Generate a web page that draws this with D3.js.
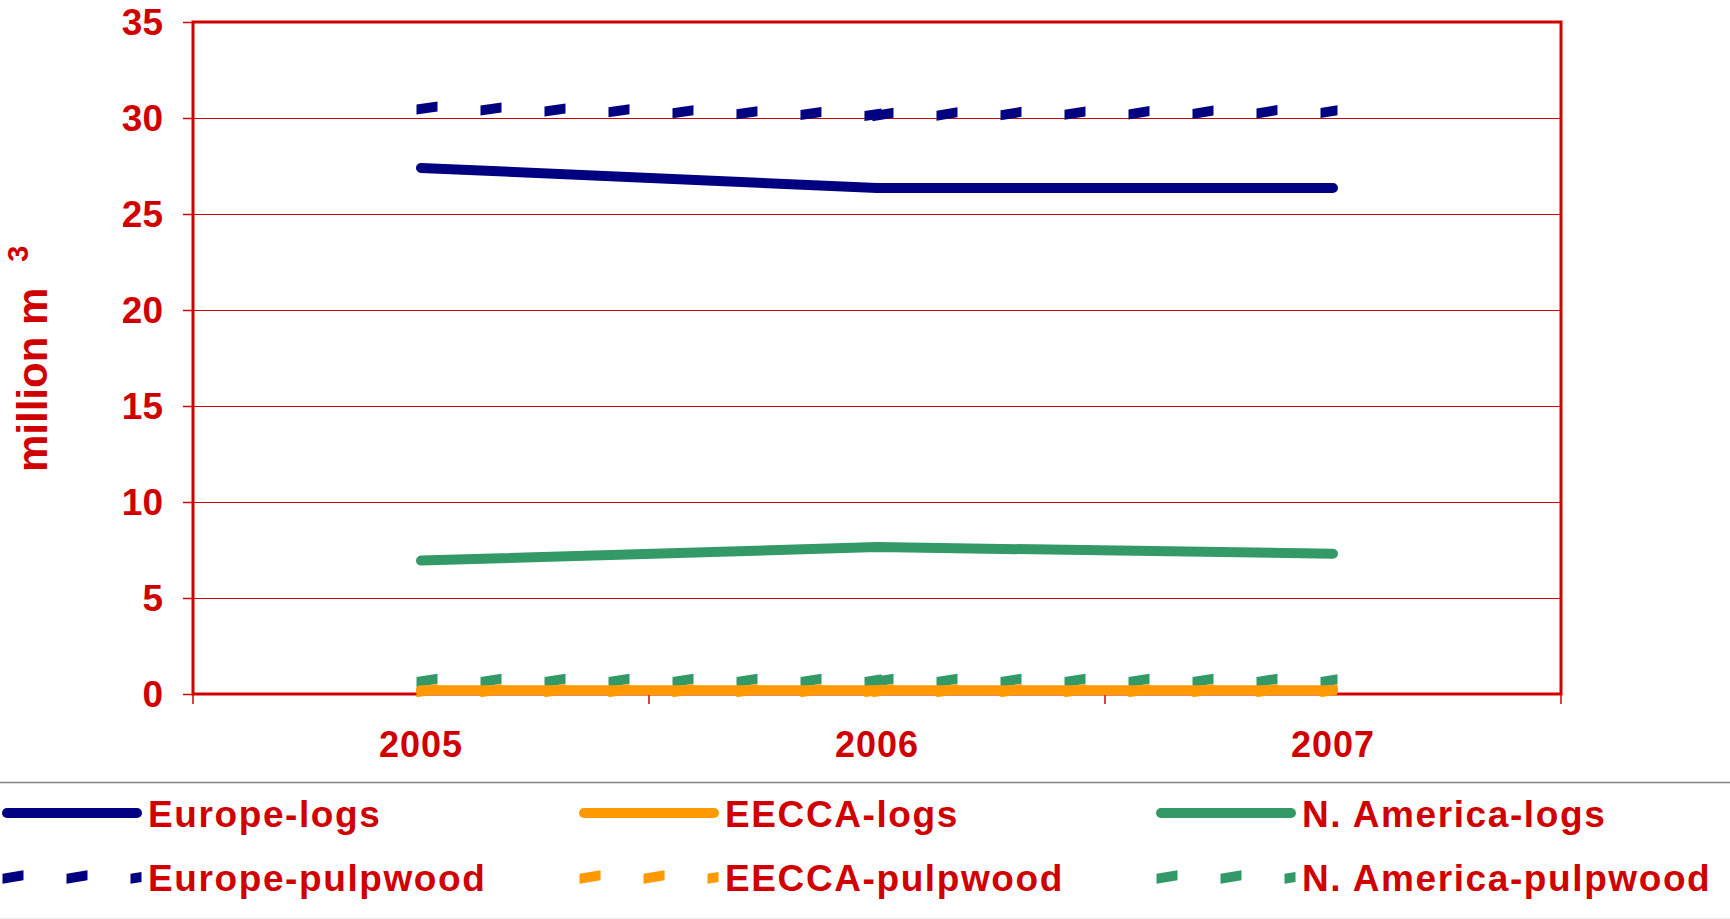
<!DOCTYPE html>
<html><head><meta charset="utf-8">
<script src="https://cdn.jsdelivr.net/npm/d3@7/dist/d3.min.js"></script>
<style>html,body{margin:0;padding:0;background:#fff;}svg{display:block;}</style>
</head><body>
<svg id="chart" width="1730" height="919"></svg>
<script>
// ---- data ----
const years = ["2005", "2006", "2007"];
const yTicks = [0, 5, 10, 15, 20, 25, 30, 35];
const europeLogs = [27.4, 26.35, 26.35];
const europePulpwood = [30.52, 30.18, 30.35];
const eeccaLogs = [0.2, 0.2, 0.2];
const eeccaPulpwood = [0.18, 0.18, 0.18];
const naLogs = [6.95, 7.65, 7.31];
const naPulpwood = [0.71, 0.71, 0.71];
const seriesNames = ["Europe-logs", "EECCA-logs", "N. America-logs",
                     "Europe-pulpwood", "EECCA-pulpwood", "N. America-pulpwood"];

const RED = "#d00000", NAVY = "#000080", ORANGE = "#ff9900", GREEN = "#339966";
const FONT = "'Liberation Sans', Arial, sans-serif";

const series = [
  {name: "Europe-logs", values: europeLogs, color: NAVY, dashed: false},
  {name: "Europe-pulpwood", values: europePulpwood, color: NAVY, dashed: true},
  {name: "N. America-logs", values: naLogs, color: GREEN, dashed: false},
  {name: "N. America-pulpwood", values: naPulpwood, color: GREEN, dashed: true},
  {name: "EECCA-logs", values: eeccaLogs, color: ORANGE, dashed: false},
  {name: "EECCA-pulpwood", values: eeccaPulpwood, color: ORANGE, dashed: true}
];

const svg = d3.select("#chart");
const L = 193, R = 1561, T = 22, B = 694;

const x = d3.scaleBand().domain(years).range([L, R]);
const xc = d => x(d) + x.bandwidth() / 2;
const y = d3.scaleLinear().domain([0, 35]).range([B, T]);

// gridlines
svg.append("g").selectAll("line").data(yTicks.filter(v => v > 0 && v < 35)).join("line")
  .attr("x1", L).attr("x2", R).attr("y1", d => Math.round(y(d)) + 0.5).attr("y2", d => Math.round(y(d)) + 0.5)
  .attr("stroke", RED).attr("stroke-width", 1);

// y ticks and labels
const yAxis = d3.axisLeft(y).tickValues(yTicks).tickSize(10).tickPadding(20);
const gy = svg.append("g").attr("transform", `translate(${L},0)`).call(yAxis);
gy.select(".domain").remove();
gy.selectAll(".tick line").attr("stroke", RED).attr("stroke-width", 1.5);
gy.selectAll(".tick text").attr("fill", RED).style("font-family", FONT).style("font-weight", "bold")
  .style("font-size", "37px").attr("dy", "0.34em").attr("x", -30);

// x ticks at band boundaries
const bounds = years.map(d => x(d)).concat([R]);
svg.append("g").selectAll("line").data(bounds).join("line")
  .attr("x1", d => d).attr("x2", d => d).attr("y1", B).attr("y2", B + 10)
  .attr("stroke", RED).attr("stroke-width", 1.5);
svg.append("g").selectAll("text").data(years).join("text")
  .attr("x", d => xc(d)).attr("y", 757).attr("text-anchor", "middle")
  .attr("fill", RED).style("font-family", FONT).style("font-weight", "bold").style("font-size", "36px")
  .style("letter-spacing", "1px").text(d => d);

// plot border
svg.append("rect").attr("x", L).attr("y", T).attr("width", R - L).attr("height", B - T)
  .attr("fill", "none").attr("stroke", RED).attr("stroke-width", 3);

// y title
const yt = svg.append("text").attr("transform", "translate(47,472) rotate(-90)")
  .attr("fill", RED).style("font-family", FONT).style("font-weight", "bold").style("font-size", "42px");
yt.append("tspan").text("million m");
yt.append("tspan").attr("dx", 26).attr("dy", -19).style("font-size", "29px").text("3");

// dashed "parallelogram" dashes
function dashPolys(pts, dashLen = 21, period = 64, ext = 4.5, h = 10, sl = 3.3) {
  const polys = [];
  for (let i = 0; i < pts.length - 1; i++) {
    const [px, py] = pts[i], [qx, qy] = pts[i + 1];
    const len = Math.hypot(qx - px, qy - py);
    const ux = (qx - px) / len, uy = (qy - py) / len;
    const sx = px - ux * ext, sy = py - uy * ext;
    const tot = len + 2 * ext;
    const shift = u => sl * (0.5 - u / dashLen);
    for (let t = 0; t < tot; t += period) {
      const t2 = Math.min(t + dashLen, tot);
      const ax = sx + ux * t, ay = sy + uy * t;
      const bx = sx + ux * t2, by = sy + uy * t2;
      const s0 = shift(0), s1 = shift(t2 - t);
      polys.push([[ax, ay - h / 2 + s0], [bx, by - h / 2 + s1], [bx, by + h / 2 + s1], [ax, ay + h / 2 + s0]]);
    }
  }
  return polys;
}

const line = d3.line();
series.forEach(s => {
  const pts = years.map((yr, i) => [xc(yr), y(s.values[i])]);
  if (!s.dashed) {
    svg.append("path").attr("d", line(pts)).attr("fill", "none").attr("stroke", s.color)
      .attr("stroke-width", 10).attr("stroke-linecap", "round").attr("stroke-linejoin", "round");
  } else {
    svg.append("g").selectAll("polygon").data(dashPolys(pts)).join("polygon")
      .attr("points", d => d.map(p => p.join(",")).join(" ")).attr("fill", s.color);
  }
});

// legend
svg.append("line").attr("x1", 0).attr("x2", 1730).attr("y1", 782.5).attr("y2", 782.5)
  .attr("stroke", "#808080").attr("stroke-width", 1.5);
svg.append("line").attr("x1", 0).attr("x2", 1730).attr("y1", 918.5).attr("y2", 918.5)
  .attr("stroke", "#ececec").attr("stroke-width", 1);

const colX = [2, 579, 1156];
const rowY = [813, 877];
const legendItems = seriesNames.map((name, i) => {
  const s = series.find(v => v.name === name);
  return {name, color: s.color, dashed: s.dashed, col: i % 3, row: Math.floor(i / 3)};
});
legendItems.forEach(it => {
  const x0 = colX[it.col], yy = rowY[it.row];
  if (!it.dashed) {
    svg.append("line").attr("x1", x0 + 5).attr("x2", x0 + 135).attr("y1", yy).attr("y2", yy)
      .attr("stroke", it.color).attr("stroke-width", 10).attr("stroke-linecap", "round");
  } else {
    svg.append("g").selectAll("polygon").data(dashPolys([[x0 + 5, yy], [x0 + 135, yy]])).join("polygon")
      .attr("points", d => d.map(p => p.join(",")).join(" ")).attr("fill", it.color);
  }
  svg.append("text").attr("x", x0 + 146).attr("y", yy + 13.5)
    .attr("fill", RED).style("font-family", FONT).style("font-weight", "bold").style("font-size", "37px")
    .style("letter-spacing", "1.6px").text(it.name);
});
</script>
</body></html>
